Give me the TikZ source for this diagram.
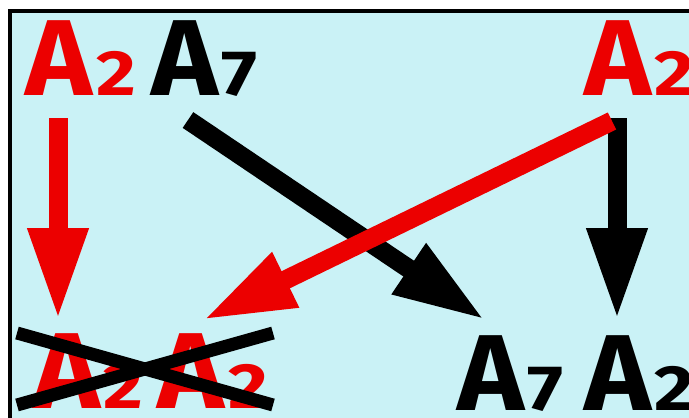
\documentclass[tikz,border=0pt]{standalone}
\usepackage{fontspec}
\usepackage{graphicx}
\setmainfont{Fira Sans}
\usetikzlibrary{arrows.meta}
\definecolor{bgcyan}{RGB}{202,242,246}
\definecolor{myred}{RGB}{236,0,0}
\newcommand{\BigA}{\scalebox{1.05}[1]{\fontsize{108}{108}\selectfont A}}
\newcommand{\SmallD}[1]{\kern4pt\scalebox{1.2}[1]{\fontsize{64}{64}\selectfont #1}}
\begin{document}
\begin{tikzpicture}[x=1pt,y=-1pt,
  lab/.style={inner sep=0pt, outer sep=0pt, anchor=base west, font=\bfseries, text depth=0pt},
  redlab/.style={lab, text=myred},
  blacklab/.style={lab, text=black},
  fatarrow/.style={line width=19pt, line cap=butt, -{Triangle[length=92pt,width=56pt]}},
  crossline/.style={line width=13pt, line cap=butt, black}]
\useasboundingbox (0,0) rectangle (689,418);
\fill[white] (0,0) rectangle (689,418);
\fill[bgcyan] (10,11) rectangle (689,418);
\draw[line width=4pt] (10,418) -- (10,11) -- (689,11);
% labels
\node[redlab]   (tl) at (26,95)  {\BigA\SmallD{2}};
\node[blacklab] (tm) at (151,95) {\BigA\SmallD{7}};
\node[redlab]   (tr) at (584,95) {\BigA\SmallD{2}};
\node[redlab]   (bl) at (33,408) {\BigA\SmallD{2}\kern14pt\BigA\SmallD{2}};
\node[blacklab] (bm) at (457,410) {\BigA\SmallD{7}};
\node[blacklab] (br) at (584,410) {\BigA\SmallD{2}};
% arrow end points
\coordinate (r1s) at (58,118);
\coordinate (r1e) at (58,320);
\coordinate (b1s) at (617,118);
\coordinate (b1e) at (617,320);
\coordinate (b2s) at (188,120);
\coordinate (b2e) at (485,320);
\coordinate (r2s) at (612,121);
\coordinate (r2e) at (203,320);
\coordinate (x1a) at (17,333);
\coordinate (x1b) at (273,405);
\coordinate (x2a) at (17,405);
\coordinate (x2b) at (273,333);
% arrows
\draw[fatarrow, myred] (r1s) -- (r1e);
\draw[fatarrow, black] (b1s) -- (b1e);
\draw[fatarrow, black] (b2s) -- (b2e);
\draw[fatarrow, myred] (r2s) -- (r2e);
% cross
\draw[crossline] (x1a) -- (x1b);
\draw[crossline] (x2a) -- (x2b);
\end{tikzpicture}
\end{document}
